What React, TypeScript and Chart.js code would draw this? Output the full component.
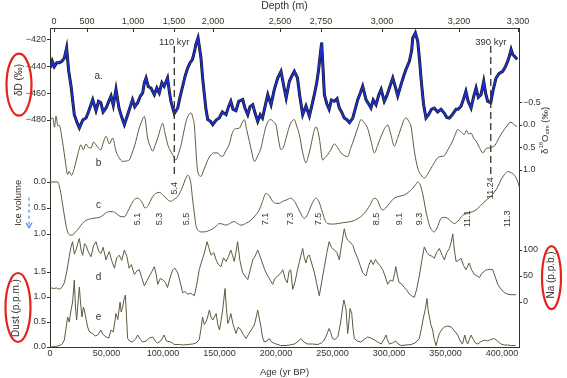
import React, { useEffect, useRef } from 'react';
import { Chart, registerables } from 'chart.js';

Chart.register(...registerables);

// ---------------- data (ages in kyr BP) ----------------
const ageTicks = [0, 50000, 100000, 150000, 200000, 250000, 300000, 350000, 400000];
const depthLabels = ['0', '500', '1,000', '1,500', '2,000', '2,500', '2,750', '3,000', '3,200', '3,300'];
const depthTickAges = [3.5, 32.7, 73.5, 109.7, 144.2, 203.5, 239.8, 293.8, 362, 414.2];

const deltaDTicks = [-480, -460, -440, -420];
const iceTicks = [0, 0.5, 1];
const dustTicks = [0, 0.5, 1, 1.5];
const o18Ticks = [-0.5, 0, 0.5, 1];
const naTicks = [0, 50, 100];

const markerAges = [110, 390];
const markerLabels = ['110 kyr', '390 kyr'];
const stageLabels = ['5.1', '5.3', '5.4', '5.5', '7.1', '7.3', '7.5', '8.5', '9.1', '9.3', '11.1', '11.24', '11.3'];
const stageAges = [77.6, 96.7, 110, 120.4, 191, 213, 238, 288.5, 309, 327, 369.6, 390, 405];

// a. deltaD (per mil)
const deltaD: [number, number][] = [
  [0.5, -441], [2, -436], [3.8, -440], [6, -437], [8.2, -437], [10.5, -436], [12.7, -433.5], [14.7, -426],
  [16.5, -443], [18.6, -454.5], [21.5, -476], [24, -482], [26, -486], [29, -480], [31.9, -478.5], [34, -474],
  [37.8, -464.7], [40.7, -473], [43, -466], [45, -467], [47, -474], [49.6, -471], [52, -466], [54, -462],
  [56, -469], [58.4, -457], [61, -471], [63.5, -478], [65.8, -483.5], [68.7, -476], [71, -470], [73, -464.7],
  [75, -470], [77.6, -467], [80, -462], [82, -459.7], [83.5, -452], [85, -448.5], [87, -455], [89.4, -456],
  [92.3, -461], [94.5, -456], [96.7, -459.7], [99, -452], [101, -454.7], [104, -448.5], [105.5, -458], [107, -466],
  [110, -475], [113, -471], [115, -463], [117.4, -454.7], [119.6, -447], [121.8, -441], [124, -437], [126, -434.7],
  [128, -428], [129, -423.5], [131, -418.5], [133.6, -433.5], [135, -448], [136.6, -461], [138, -472], [139.6, -479.7],
  [142, -481], [144, -483.5], [147, -480], [149.8, -478.5], [152.5, -474], [155.8, -476], [158, -470], [160, -466],
  [162, -472], [164.6, -473], [167, -466], [170.5, -464.7], [172.5, -471], [175, -476], [177, -470], [179.4, -468.5],
  [181.5, -475], [183.8, -481], [186, -476], [188, -478.5], [190.5, -469], [192.7, -461], [195.6, -468.5], [198.5, -457],
  [201.5, -448.5], [204.4, -443.5], [207.4, -457], [209, -463.5], [211.8, -451], [214, -447], [216.2, -443.5], [219, -448.5],
  [221, -462], [223.6, -476], [226.5, -469.5], [229.5, -477], [231.5, -470], [233.9, -461], [236, -452], [237.5, -443.5],
  [239, -432], [240.4, -422], [241.5, -440], [242.8, -461], [245, -468], [247, -472], [249, -465], [251.6, -466],
  [254, -464], [256, -471], [258, -474], [260.4, -478.5], [263, -480], [265, -482], [267.9, -478.5], [270, -472],
  [272.3, -464.7], [274.5, -460], [276.7, -454.7], [279.6, -464.7], [282, -468], [284, -471], [286, -465], [288.5, -468.5],
  [291, -461], [293, -457], [295.8, -466], [298, -462], [300.3, -456], [303.3, -448.5], [305.5, -455], [307.7, -462],
  [310.6, -453.5], [313, -447], [315, -442], [318, -436], [320, -428], [321, -418.5], [323.3, -414.7], [325.4, -421],
  [327, -435], [328.3, -448.5], [330.5, -468], [332.7, -478.5], [335, -476], [337.5, -472], [340, -471], [343, -474],
  [346, -472], [349, -475], [351, -478], [353.4, -478.5], [356, -476], [359.3, -472], [361, -472], [363.7, -469.7],
  [366, -464], [368, -458.5], [370, -466], [372.6, -471], [375, -462], [377, -456], [379, -463], [381.4, -461],
  [383.8, -451], [385.5, -460], [387.3, -466], [390, -467], [392, -458], [394.7, -448.5], [397.5, -445], [400.6, -443.5],
  [403, -440], [405, -436], [406.5, -432], [408, -427], [409.5, -431], [411, -432.2], [413.3, -434.5],
];

// b. delta18O atm (per mil)
const delta18O: [number, number][] = [
  [0, -0.1], [2.4, -0.16], [4, 0.05], [5.3, -0.2], [7, 0.02], [8, 0], [11, 0.36], [14, 0.88], [15.5, 1.1], [17, 1.03],
  [19, 1.12], [21.5, 0.96], [24.5, 0.66], [27.4, 0.44], [29.5, 0.55], [31.9, 0.42], [34, 0.5], [36.3, 0.51], [38.5, 0.38],
  [40.7, 0.44], [43, 0.52], [45, 0.55], [47, 0.4], [49.6, 0.25], [52.5, 0.42], [55.5, 0.29], [58.4, 0.58], [61, 0.72],
  [64.3, 0.81], [67, 0.8], [70, 0.78], [73, 0.6], [76, 0.36], [78, 0.15], [80.5, -0.04], [83.5, -0.19], [86.4, 0.29],
  [89, 0.5], [91, 0.58], [93, 0.45], [95.3, 0.29], [97.5, 0.1], [99.7, -0.04], [101.5, 0.15], [104, 0.42], [106, 0.55],
  [108.6, 0.66], [111.5, 0.78], [113.5, 0.65], [116, 0.44], [118, 0.2], [120.4, -0.08], [122.5, -0.22], [124.8, -0.27],
  [126.5, -0.15], [127.7, 0], [129, 0.5], [130.7, 1.03], [133.6, 1.14], [136, 1.0], [138, 0.88], [140, 0.76], [142.5, 0.66],
  [145, 0.62], [148.4, 0.62], [150.5, 0.68], [152.8, 0.7], [155, 0.6], [158.7, 0.42], [161, 0.2], [163, 0.1], [165, 0.08],
  [167.5, 0.07], [170, -0.05], [172, -0.12], [174, 0.1], [176.4, 0.36], [178.5, 0.6], [180.8, 0.81], [183.5, 0.7],
  [186.7, 0.51], [189, 0.25], [191, 0.04], [193.5, -0.1], [195.6, -0.12], [198, -0.06], [200, 0], [202, 0.3], [204.4, 0.55],
  [206.5, 0.5], [208.8, 0.3], [211, 0.1], [213, -0.04], [216.2, -0.12], [218, 0], [220.6, 0.21], [223.5, 0.6], [226.5, 0.84],
  [228.5, 0.7], [231, 0.44], [233, 0.2], [235.4, 0.04], [238.3, 0.29], [241.3, 0.78], [243.5, 0.72], [245.7, 0.66],
  [248.5, 0.55], [251.6, 0.42], [254.5, 0.5], [257.5, 0.62], [260.5, 0.68], [263.4, 0.7], [266, 0.52], [269.3, 0.29],
  [272.5, 0.05], [275.2, -0.12], [278, -0.05], [281, 0.07], [284, 0.35], [287, 0.62], [290, 0.45], [293, 0.25], [296, 0.08],
  [298.8, 0], [301.5, 0.2], [304.7, 0.47], [307.5, 0.3], [310.6, 0.07], [313, -0.1], [315, -0.16], [317.5, -0.08],
  [319.5, 0.04], [322.4, 0.58], [325.4, 0.96], [328, 1.1], [331.2, 1.18], [334, 1.1], [337.2, 0.96], [340, 0.84],
  [343, 0.73], [346, 0.7], [349, 0.68], [352, 0.55], [355, 0.42], [358, 0.25], [360.8, 0.1], [363.5, 0.15], [366.6, 0.21],
  [368.5, 0.12], [370.5, 0.2], [372.6, 0.18], [375, 0.3], [377, 0.36], [380, 0.5], [383, 0.62], [386, 0.52], [388.8, 0.51],
  [391, 0.49], [393.2, 0.47], [396, 0.35], [399, 0.21], [402, 0.1], [405, 0], [407, -0.06], [408.8, -0.05], [411, 0], [413, 0.03],
];

// c. ice volume (relative)
const iceVolume: [number, number][] = [
  [0, 0], [6.8, 0], [9, 0.15], [11, 0.41], [13.5, 0.75], [15.6, 0.96], [18, 1.02], [20, 1.02], [22, 0.97], [24.5, 0.92],
  [27, 0.84], [30.4, 0.76], [34, 0.72], [37.8, 0.7], [41, 0.69], [45, 0.67], [49, 0.6], [52.5, 0.57], [55.5, 0.57],
  [58.4, 0.6], [62, 0.66], [65.8, 0.67], [68.5, 0.58], [71.7, 0.44], [74.5, 0.34], [77.6, 0.31], [80, 0.35], [82, 0.41],
  [84, 0.5], [86.4, 0.47], [88.5, 0.38], [90.9, 0.28], [93.5, 0.22], [96.7, 0.2], [99.5, 0.24], [102.7, 0.31], [105, 0.36],
  [107, 0.37], [110, 0.33], [113, 0.28], [115.5, 0.18], [117.4, 0.09], [119.5, -0.04], [121.9, -0.13], [123.5, -0.08],
  [124.8, 0.05], [126, 0.3], [127.7, 0.6], [129, 0.82], [130.7, 0.92], [133.5, 0.96], [136.6, 0.96], [140, 0.94], [144, 0.9],
  [147, 0.85], [149.8, 0.8], [152.8, 0.81], [155.8, 0.83], [159, 0.8], [163, 0.76], [166, 0.8], [169, 0.83], [173, 0.8],
  [177.9, 0.73], [181.5, 0.65], [185, 0.54], [188, 0.38], [191, 0.22], [193.5, 0.25], [197, 0.37], [200, 0.41], [203, 0.41],
  [206, 0.37], [208.8, 0.35], [213, 0.31], [216.5, 0.38], [220, 0.52], [223, 0.65], [225, 0.7], [228, 0.62], [231, 0.46],
  [233.5, 0.35], [235.4, 0.31], [238, 0.38], [241, 0.58], [243.5, 0.74], [245.7, 0.8], [250, 0.81], [254.6, 0.8], [260, 0.78],
  [266.4, 0.76], [272, 0.71], [278.2, 0.6], [283, 0.45], [287, 0.31], [290, 0.36], [292, 0.47], [294.4, 0.54], [297, 0.5],
  [300, 0.42], [304.7, 0.31], [308, 0.28], [313.5, 0.25], [317, 0.2], [321, 0.12], [323.5, 0.05], [325.4, 0], [327.5, 0.05],
  [330, 0.25], [333, 0.6], [335.7, 0.83], [338, 0.93], [340, 0.96], [342.5, 0.88], [346, 0.7], [349, 0.68], [352, 0.7],
  [355, 0.76], [357.8, 0.8], [361, 0.75], [365.2, 0.64], [369, 0.6], [374, 0.57], [378, 0.52], [383, 0.41], [387, 0.33],
  [390, 0.28], [393, 0.2], [396, 0.1], [399, -0.04], [402, -0.14], [405, -0.2], [408, -0.18], [411, -0.13], [414, 0], [416, 0.15],
];

// d. Na (p.p.b.)
const sodium: [number, number][] = [
  [0, 28], [3, 26], [6, 27], [8.2, 24.5], [10.5, 28], [12.7, 37], [15, 60], [17, 87], [18.5, 105], [20, 116], [21.5, 92],
  [23, 100], [24.5, 112], [26, 122], [27.5, 100], [29, 90], [30.5, 112], [31.9, 109], [34, 96], [36.3, 87], [38.5, 108],
  [40.7, 116], [43, 98], [45, 93], [47, 105], [49.6, 81], [51, 90], [52.5, 97], [54.5, 80], [57, 65], [59, 85], [61.3, 90],
  [63.5, 80], [65.8, 100], [68, 88], [70, 65], [72, 72], [74.6, 53], [77, 60], [79, 62], [81, 48], [83.5, 31], [86, 42],
  [88, 50], [90, 58], [92.3, 68], [93.8, 55], [95.3, 34], [97.5, 45], [99.7, 43], [102, 38], [104, 28], [106, 45],
  [108.6, 62], [110.5, 65], [113, 56], [115, 40], [117.4, 18], [119.5, 20], [121.9, 15], [124.5, 17], [127.7, 12], [130, 35],
  [132, 62], [134.5, 80], [136.6, 94], [139, 116], [140.5, 105], [142.5, 90], [145, 95], [147, 81], [149, 72], [151.3, 68],
  [153.5, 85], [155.8, 78], [158, 88], [160, 100], [161.5, 90], [163, 78], [164.5, 95], [166, 116], [168, 80], [170.5, 56],
  [172.5, 50], [175, 43], [177, 60], [179.4, 81], [181.5, 88], [183.8, 100], [185.5, 90], [188, 75], [190, 62], [192.7, 50],
  [195, 42], [197, 34], [199, 45], [201.5, 50], [204, 55], [206, 62], [208, 45], [210, 37], [211.5, 59], [213, 62],
  [214.8, 24.5], [217, 40], [219, 62], [221, 80], [223.6, 103], [225, 85], [226.5, 75], [228, 88], [229.5, 90], [231.5, 75],
  [234, 56], [236, 35], [238.3, 12], [240.5, 40], [242.8, 68], [245, 95], [247, 116], [249, 105], [251.6, 100], [254, 95],
  [256, 81], [258, 110], [260.4, 141], [262, 125], [263.4, 119], [265.5, 115], [268, 109], [270, 95], [272.3, 84],
  [274.5, 70], [276.7, 56], [279.6, 50], [282, 70], [284, 81], [286, 72], [288, 82], [290, 75], [292, 70], [294.4, 62],
  [296.5, 50], [298.8, 34], [301, 42], [303.3, 40], [305, 55], [306, 68], [307.5, 50], [309, 37], [311, 35], [313.5, 28],
  [316, 22], [318, 15], [320, 12], [322.4, 9], [324.5, 25], [326.8, 50], [329, 80], [331.2, 106], [333.5, 95], [335.7, 90],
  [338, 88], [340, 84], [342, 95], [344.5, 103], [347, 90], [349, 81], [351, 95], [353.4, 103], [355, 115], [356.4, 131],
  [357.8, 100], [359.3, 78], [361.5, 80], [363.7, 84], [366, 70], [368, 62], [371, 75], [373, 62], [375.5, 53], [378, 50],
  [380, 47], [382, 55], [384.3, 59], [386, 62], [387.3, 62], [389.5, 63], [391.8, 62], [394, 48], [396.2, 34], [399, 25],
  [402, 18], [405, 15], [408, 14], [412.4, 14],
];

// e. dust (p.p.m.)
const dust: [number, number][] = [
  [0, 0], [5, 0.01], [8.2, 0.03], [10.5, 0.05], [12.7, 0.14], [14, 0.35], [15.6, 0.6], [17, 0.5], [18.6, 0.74], [20, 0.9],
  [21.5, 1.34], [22.5, 0.8], [23.6, 0.54], [25, 0.95], [26, 1.2], [27, 0.9], [28.3, 0.6], [29.5, 0.8], [30.4, 0.74],
  [32, 0.55], [33.3, 0.4], [35, 0.3], [37.8, 0.27], [40, 0.22], [42.2, 0.24], [44, 0.3], [45, 0.34], [47, 0.25], [49.6, 0.2],
  [52, 0.18], [54, 0.34], [56, 0.3], [58.4, 0.67], [60, 0.55], [62, 0.9], [63, 0.7], [64.3, 0.8], [65.5, 0.95], [66.7, 1.04],
  [67.7, 0.6], [68.7, 0.17], [70.5, 0.12], [73, 0.1], [75.5, 0.15], [77.6, 0.24], [80, 0.15], [82, 0.1], [85, 0.12],
  [88, 0.18], [91, 0.2], [93, 0.12], [95.3, 0.08], [98, 0.12], [101, 0.24], [103, 0.12], [107, 0.1], [110, 0.05],
  [114.4, 0.05], [118, 0.04], [122, 0.05], [126.3, 0.06], [129, 0.08], [132, 0.14], [133.5, 0.35], [135, 0.6], [136.5, 0.45],
  [138, 0.5], [139.5, 0.6], [141, 0.74], [142.5, 0.6], [144, 0.54], [145.5, 0.6], [147, 0.67], [148.5, 0.45], [150, 0.34],
  [151.5, 0.55], [152.8, 0.74], [154.9, 1.17], [156, 0.8], [157.3, 0.47], [158.7, 0.55], [160, 0.67], [162, 0.45],
  [164.6, 0.27], [166.5, 0.4], [169, 0.34], [171, 0.25], [173.5, 0.17], [175.5, 0.25], [178, 0.34], [180.8, 0.44],
  [182.5, 0.6], [183.8, 0.74], [185, 0.6], [186.7, 0.4], [188, 0.2], [189.6, 0.1], [192, 0.12], [194, 0.17], [196, 0.1],
  [198, 0.08], [200, 0.06], [204, 0.03], [208.8, 0.03], [212, 0.04], [216.2, 0.06], [219, 0.1], [222, 0.17], [224.5, 0.1],
  [228, 0.06], [232, 0.06], [237, 0.05], [240, 0.08], [242, 0.12], [244, 0.2], [247, 0.37], [248.5, 0.28], [250, 0.17],
  [252, 0.15], [254.6, 0.2], [256, 0.35], [257.5, 0.54], [259, 0.8], [260, 0.94], [261, 0.85], [262, 0.74], [263.4, 0.27],
  [264.5, 0.5], [265.5, 0.77], [267, 0.67], [268, 0.4], [269.3, 0.17], [272, 0.12], [275, 0.1], [278, 0.15], [281, 0.2],
  [284, 0.18], [287, 0.14], [290, 0.1], [293, 0.06], [295.5, 0.15], [297.3, 0.24], [298.5, 0.15], [300.3, 0.06], [303, 0.08],
  [306, 0.12], [308, 0.06], [310.6, 0.03], [315, 0.04], [319.5, 0.05], [323, 0.08], [326.8, 0.17], [328.5, 0.35], [330, 0.54],
  [332, 0.75], [333.6, 0.97], [334.5, 0.75], [335.7, 0.6], [337, 0.45], [338.6, 0.34], [340, 0.15], [341.6, 0.03],
  [343, 0.15], [344.5, 0.27], [347, 0.36], [349, 0.4], [352, 0.42], [355, 0.4], [358, 0.32], [360.8, 0.24], [363, 0.12],
  [365, 0.06], [367, 0.24], [368.5, 0.1], [369.6, 0.06], [371, 0.15], [372.6, 0.24], [374.5, 0.15], [376.5, 0.08],
  [378.5, 0.06], [381, 0.1], [384.3, 0.14], [387, 0.12], [390, 0.15], [393.2, 0.17], [396, 0.12], [399, 0.06], [402, 0.04],
  [405, 0.04], [408, 0.03], [412, 0.03],
];

// ---------------- styling ----------------
const INK = '#36342a';
const LINE = '#5f5a3d';
const FONT = '"Liberation Sans", Arial, Helvetica, sans-serif';
const W = 567;
const H = 378;

const pts = (arr: [number, number][]) => arr.map(([a, v]) => ({ x: a * 1000, y: v }));
const fmt = (v: number, d: number) => (v < 0 ? '\u2212' : '') + Math.abs(v).toFixed(d);

function yAxis(pos: 'left' | 'right', stack: string, stackWeight: number, order: number,
  min: number, max: number, reverse: boolean, tickVals: number[], digits: number) {
  return {
    type: 'linear', position: pos, stack, stackWeight, weight: order, min, max, reverse,
    afterBuildTicks: (ax: any) => { ax.ticks = tickVals.map((v) => ({ value: v })); },
    afterFit: (ax: any) => { ax.width = pos === 'left' ? 50 : 48; },
    ticks: {
      autoSkip: false, padding: 1, color: INK, font: { family: FONT, size: 9 },
      callback: (v: any) => fmt(Number(v), digits),
    },
    grid: { display: true, drawOnChartArea: false, drawTicks: true, tickLength: 3, color: INK },
    border: { display: true, color: INK, width: 1 },
  };
}

const overlay = {
  id: 'overlay',
  afterDraw(chart: any) {
    const { ctx, scales: s, chartArea: area } = chart;
    const X = (age: number) => s.x.getPixelForValue(age * 1000);
    ctx.save();
    ctx.fillStyle = INK;
    ctx.strokeStyle = INK;
    ctx.lineWidth = 1;

    // inward depth ticks
    depthTickAges.forEach((a) => {
      const x = Math.round(X(a)) + 0.5;
      ctx.beginPath(); ctx.moveTo(x, area.top); ctx.lineTo(x, area.top + 4); ctx.stroke();
    });

    // dashed age markers
    ctx.font = `9.5px ${FONT}`;
    ctx.textAlign = 'center';
    ctx.textBaseline = 'middle';
    markerAges.forEach((a, i) => {
      const x = X(a);
      ctx.setLineDash([7, 4]);
      ctx.lineWidth = 1.3;
      ctx.beginPath();
      ctx.moveTo(x, s.yD.getPixelForValue(-424.5));
      ctx.lineTo(x, s.yI.getPixelForValue(-0.14));
      ctx.stroke();
      ctx.setLineDash([]);
      ctx.fillText(markerLabels[i], x, s.yD.getPixelForValue(-421.5));
    });

    // marine isotope stage labels
    ctx.font = `9px ${FONT}`;
    stageLabels.forEach((t, i) => {
      const a = stageAges[i];
      const raised = markerAges.includes(a);
      ctx.save();
      ctx.translate(X(a), s.yI.getPixelForValue(raised ? 0.12 : 0.71));
      ctx.rotate(-Math.PI / 2);
      ctx.fillText(t, 0, 0);
      ctx.restore();
    });

    // series letters
    ctx.font = `10px ${FONT}`;
    const tags: [string, string, number][] = [
      ['a.', 'yD', -447], ['b', 'yO', 0.84], ['c', 'yI', 0.44], ['d', 'yNa', 48], ['e', 'yDust', 0.6],
    ];
    tags.forEach(([t, id, v]) => ctx.fillText(t, X(43), s[id].getPixelForValue(v)));

    // rotated axis titles
    const vtext = (t: string, x: number, y: number, size: number) => {
      ctx.save(); ctx.translate(x, y); ctx.rotate(-Math.PI / 2);
      ctx.font = `${size}px ${FONT}`; ctx.fillText(t, 0, 0); ctx.restore();
    };
    vtext('\u03B4D (\u2030)', area.left - 31, s.yD.getPixelForValue(-450), 10);
    vtext('Ice volume', area.left - 31.5, s.yI.getPixelForValue(0.4), 9.5);
    vtext('Dust (p.p.m.)', area.left - 34, s.yDust.getPixelForValue(0.78), 10);
    vtext('Na (p.p.b.)', area.right + 32, s.yNa.getPixelForValue(52), 10);

    // delta18O atm title with super/subscripts
    {
      const parts: [string, number, number][] = [
        ['\u03B4', 9.5, 0], ['18', 6, -3.5], ['O', 9.5, 0], ['atm', 5.5, 2.5], [' (\u2030)', 9.5, 0],
      ];
      let total = 0;
      parts.forEach(([t, sz]) => { ctx.font = `${sz}px ${FONT}`; total += ctx.measureText(t).width; });
      ctx.save();
      ctx.translate(area.right + 26, s.yO.getPixelForValue(0.12));
      ctx.rotate(-Math.PI / 2);
      ctx.textAlign = 'left';
      let cx = -total / 2;
      parts.forEach(([t, sz, dy]) => {
        ctx.font = `${sz}px ${FONT}`;
        ctx.fillText(t, cx, dy);
        cx += ctx.measureText(t).width;
      });
      ctx.restore();
    }

    // blue ice-volume arrow
    {
      const ax = area.left - 21;
      const y0 = s.yI.getPixelForValue(0.3);
      const y1 = s.yI.getPixelForValue(0.86);
      ctx.strokeStyle = '#4f86dc';
      ctx.lineWidth = 1.2;
      ctx.setLineDash([3, 3]);
      ctx.beginPath(); ctx.moveTo(ax, y0); ctx.lineTo(ax, y1); ctx.stroke();
      ctx.setLineDash([]);
      ctx.beginPath(); ctx.moveTo(ax - 3, y1 - 4); ctx.lineTo(ax, y1 + 1); ctx.lineTo(ax + 3, y1 - 4); ctx.stroke();
    }

    // red ellipses
    ctx.strokeStyle = '#e3231c';
    ctx.lineWidth = 2.2;
    const ell = (x: number, y: number, rx: number, ry: number) => {
      ctx.beginPath(); ctx.ellipse(x, y, rx, ry, 0, 0, Math.PI * 2); ctx.stroke();
    };
    ell(area.left - 31, s.yD.getPixelForValue(-453.5), 12.5, 31);
    ell(area.left - 32, s.yDust.getPixelForValue(0.79), 12.5, 34.5);
    ell(area.right + 32.5, s.yNa.getPixelForValue(47), 9.5, 31.5);

    ctx.restore();
  },
};

export default function App() {
  const ref = useRef<HTMLCanvasElement>(null);
  useEffect(() => {
    const lineDs = (label: string, data: [number, number][], yAxisID: string, smooth: boolean) => ({
      label, data: pts(data), yAxisID, borderColor: LINE, borderWidth: 1, pointRadius: 0,
      fill: false, tension: smooth ? 0.4 : 0, cubicInterpolationMode: smooth ? 'monotone' : 'default',
    });
    const chart = new Chart(ref.current as HTMLCanvasElement, {
      type: 'line',
      data: {
        datasets: [
          { label: 'deltaD', data: pts(deltaD), yAxisID: 'yD', borderColor: '#1f30c4', borderWidth: 1.9, pointRadius: 0, fill: false, tension: 0, order: 0 },
          { label: 'deltaD outline', data: pts(deltaD), yAxisID: 'yD', borderColor: '#141414', borderWidth: 3, pointRadius: 0, fill: false, tension: 0, order: 1 },
          { ...lineDs('delta18O atm', delta18O, 'yO', true), order: 2 },
          { ...lineDs('Ice volume', iceVolume, 'yI', true), order: 3 },
          { ...lineDs('Na', sodium, 'yNa', false), order: 4 },
          { ...lineDs('Dust', dust, 'yDust', false), order: 5 },
        ] as any,
      },
      options: {
        responsive: false,
        animation: false,
        layout: { padding: 0 },
        plugins: { legend: { display: false }, tooltip: { enabled: false } },
        scales: {
          x: {
            type: 'linear', position: 'bottom', min: 0, max: 415000,
            afterBuildTicks: (ax: any) => { ax.ticks = ageTicks.map((v) => ({ value: v })); },
            afterFit: (ax: any) => { ax.height = 31; },
            ticks: {
              autoSkip: false, maxRotation: 0, padding: 1, color: INK, font: { family: FONT, size: 9 },
              callback: (v: any) => Number(v).toLocaleString('en-US'),
            },
            grid: { display: true, drawOnChartArea: false, drawTicks: false, color: INK },
            border: { display: true, color: INK, width: 1 },
            title: { display: true, text: 'Age (yr BP)', color: INK, padding: 0, font: { family: FONT, size: 9.5 } },
          },
          xTop: {
            type: 'linear', position: 'top', min: 0, max: 415000,
            afterBuildTicks: (ax: any) => { ax.ticks = depthTickAges.map((v) => ({ value: v * 1000 })); },
            afterFit: (ax: any) => { ax.height = 28; },
            ticks: {
              autoSkip: false, maxRotation: 0, padding: 1.5, color: INK, font: { family: FONT, size: 9 },
              callback: (_v: any, i: number) => depthLabels[i],
            },
            grid: { display: true, drawOnChartArea: false, drawTicks: false, color: INK },
            border: { display: true, color: INK, width: 1 },
            title: { display: true, text: 'Depth (m)', color: INK, padding: 0, font: { family: FONT, size: 10.5 } },
          },
          yD: yAxis('left', 'L', 112, 3, -495, -411, false, deltaDTicks, 0),
          yI: yAxis('left', 'L', 105, 2, -0.8077, 1.2115, true, iceTicks, 1),
          yDust: yAxis('left', 'L', 102, 1, 0, 2.04, false, dustTicks, 1),
          yO: yAxis('right', 'R', 187, 1, -2.156, 2.0, true, o18Ticks, 1),
          yNa: yAxis('right', 'R', 132, 2, -86.5, 167.3, false, naTicks, 0),
        } as any,
      },
      plugins: [overlay],
    });
    return () => chart.destroy();
  }, []);
  return (
    <div style={{ position: 'fixed', left: 0, top: 0, width: W, height: H, background: '#ffffff' }}>
      <canvas ref={ref} width={W} height={H} />
    </div>
  );
}
